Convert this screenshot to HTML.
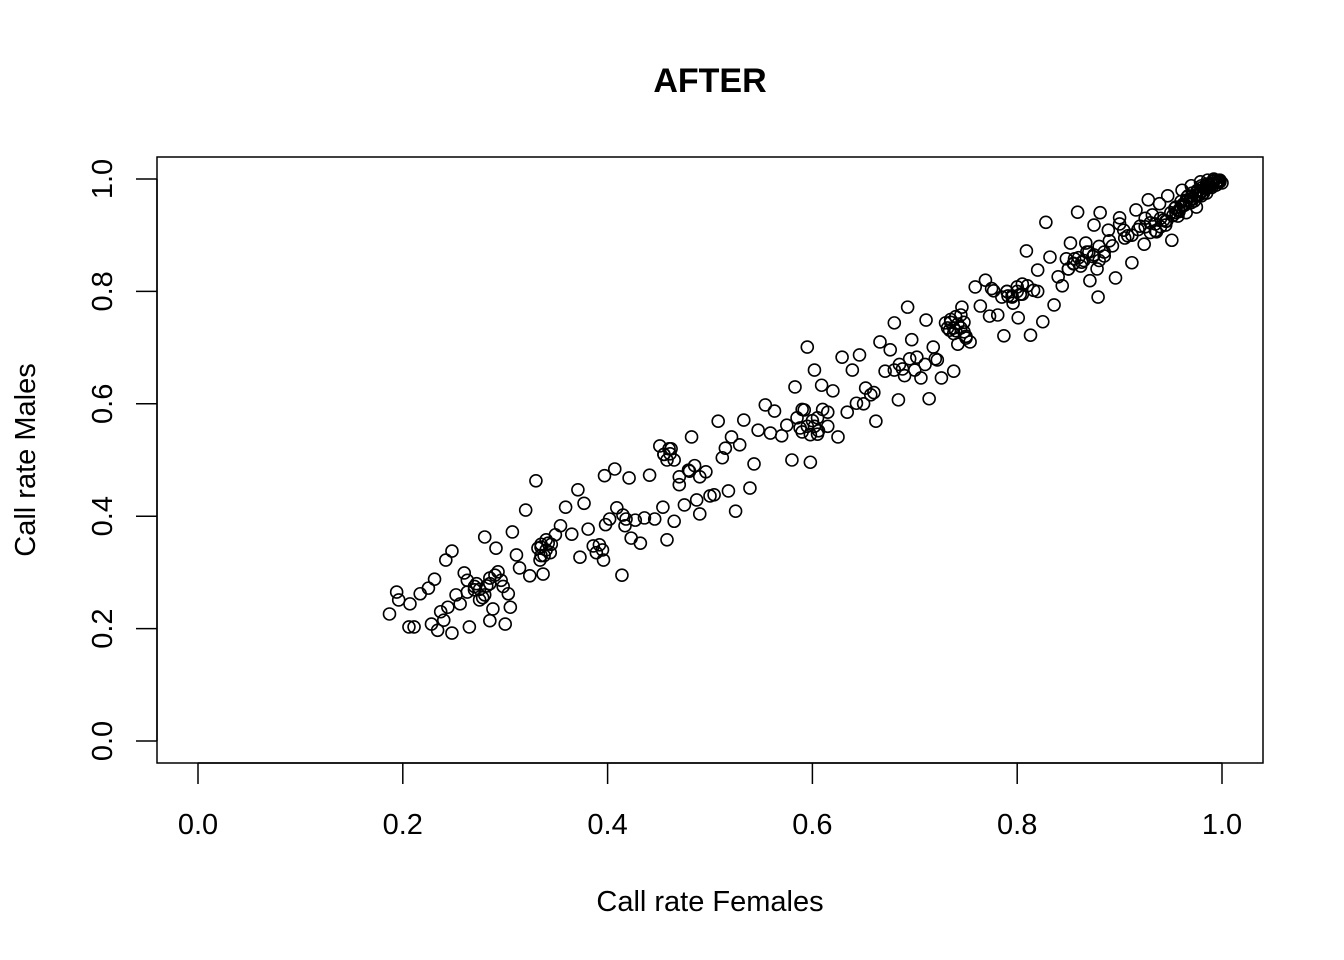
<!DOCTYPE html>
<html><head><meta charset="utf-8"><style>
html,body{margin:0;padding:0;background:#fff}
svg{display:block}
text{font-family:"Liberation Sans",Arial,sans-serif;fill:#000}
</style></head><body>
<svg id="chart" width="1344" height="960" viewBox="0 0 1344 960" xmlns="http://www.w3.org/2000/svg">
<text x="710" y="92" font-size="34" font-weight="bold" text-anchor="middle">AFTER</text>
<rect x="157" y="157" width="1106" height="606" fill="none" stroke="#000" stroke-width="1.5"/>
<g id="xaxis"></g>
<g id="yaxis"></g>
<text x="710" y="911" font-size="29" text-anchor="middle">Call rate Females</text>
<text x="0" y="0" font-size="29" text-anchor="middle" transform="translate(35,460) rotate(-90)">Call rate Males</text>
<g id="points"></g>
</svg>
<script>
const xTicks=[0,0.2,0.4,0.6,0.8,1.0];
const yTicks=[0,0.2,0.4,0.6,0.8,1.0];
const tickLabels=["0.0","0.2","0.4","0.6","0.8","1.0"];
const females=[.187,.194,.196,.206,.211,.207,.217,.225,.231,.242,.248,.228,.234,.237,.240,.248,.244,.252,.256,.260,.263,.265,.270,.275,.280,.282,.285,.288,.291,.293,.296,.300,.303,.305,.307,.311,.314,.320,.324,.330,.332,.334,.337,.340,.344,.349,.354,.359,.365,.371,.373,.377,.381,.386,.389,.392,.396,.397,.402,.407,.409,.414,.417,.421,.423,.427,.432,.436,.441,.446,.451,.454,.458,.461,.465,.470,.475,.479,.482,.487,.490,.496,.500,.504,.508,.512,.515,.518,.521,.525,.529,.533,.539,.543,.547,.554,.559,.563,.570,.575,.580,.583,.588,.592,.595,.598,.602,.605,.609,.615,.620,.625,.629,.634,.639,.643,.646,.652,.657,.662,.666,.671,.676,.680,.684,.688,.693,.697,.702,.706,.711,.714,.718,.722,.726,.730,.734,.738,.742,.746,.750,.754,.759,.764,.769,.773,.777,.781,.787,.791,.796,.801,.805,.809,.813,.816,.820,.825,.828,.832,.836,.840,.844,.848,.852,.855,.859,.863,.867,.871,.875,.879,.881,.885,.889,.893,.896,.900,.904,.908,.912,.916,.920,.924,.928,.932,.936,.939,.943,.947,.951,.954,.957,.961,.964,.967,.970,.973,.976,.979,.982,.985,.988,.991,.994,.997,1.0,.992,.986,.980,.975,
.335,.338,.342,.395,.398,.415,.418,.455,.458,.462,.598,.602,.606,.585,.590,.735,.738,.742,.745,.748,.790,.795,.800,.805,.850,.856,.862,.868,.874,.880,.925,.930,.935,.940,.945,.950,.960,.965,.970,.975,.980,.985,.990,.995,.998,.972,.978,.984,.990,.996,.955,.962,.968,.945,.958,.263,.272,.278,.285,.298,
.955,.960,.965,.970,.975,.980,.985,.990,.995,.998,.993,.987,.981,.976,.971,.966,.962,.958,.952,.946,.940,.935,.930,.925,.918,.912,.905,.900,
.735,.740,.745,.740,.732,.748,.738,.750,
.790,.795,.800,.785,.803,.810,.775,.820,
.850,.855,.860,.865,.870,.875,.880,.885,.890,.878,
.600,.595,.605,.610,.590,.615,
.455,.460,.465,.470,.480,.490,.485,
.335,.340,.335,.345,
.275,.280,.270,.285,.290,
.680,.685,.690,.695,.700,.710,.720,.650,.660];
const males=[.226,.265,.251,.203,.203,.244,.262,.272,.288,.322,.338,.208,.197,.230,.215,.192,.238,.260,.244,.299,.286,.203,.269,.251,.363,.276,.214,.235,.343,.301,.286,.208,.262,.238,.372,.331,.308,.411,.294,.463,.343,.322,.297,.358,.335,.367,.383,.416,.368,.447,.327,.423,.377,.347,.335,.349,.322,.472,.395,.484,.415,.295,.383,.468,.361,.393,.352,.397,.473,.395,.525,.416,.358,.511,.391,.456,.420,.482,.541,.429,.404,.479,.436,.438,.569,.504,.521,.445,.541,.409,.527,.571,.450,.493,.553,.598,.548,.587,.543,.562,.500,.630,.557,.589,.701,.496,.660,.546,.633,.585,.623,.541,.683,.585,.660,.601,.687,.628,.616,.569,.710,.658,.696,.744,.607,.662,.772,.714,.683,.646,.749,.609,.701,.678,.646,.744,.731,.658,.706,.772,.717,.710,.808,.774,.820,.756,.801,.758,.721,.792,.779,.753,.813,.872,.722,.802,.838,.746,.923,.861,.776,.826,.810,.858,.886,.849,.941,.852,.886,.819,.918,.790,.940,.863,.909,.881,.824,.931,.909,.899,.851,.945,.916,.884,.963,.936,.906,.956,.927,.970,.891,.948,.934,.980,.954,.970,.988,.961,.980,.995,.975,.991,.986,.996,.989,.998,.993,1.0,.998,.988,.972,
.345,.330,.352,.340,.385,.402,.395,.510,.500,.520,.545,.560,.552,.575,.590,.750,.735,.742,.758,.728,.800,.792,.808,.795,.840,.858,.845,.870,.862,.855,.915,.922,.908,.930,.918,.940,.950,.962,.958,.970,.978,.985,.990,.994,.998,.965,.972,.982,.992,.996,.940,.952,.960,.925,.945,.265,.280,.255,.290,.275,
.950,.960,.940,.965,.950,.970,.975,.985,.990,.995,.998,.990,.985,.978,.975,.968,.955,.942,.935,.925,.915,.920,.905,.930,.910,.900,.895,.920,
.745,.730,.735,.755,.735,.745,.725,.720,
.800,.790,.800,.790,.795,.810,.805,.800,
.840,.850,.860,.855,.870,.865,.880,.870,.890,.840,
.570,.560,.575,.590,.550,.560,
.510,.520,.500,.470,.480,.470,.490,
.350,.340,.330,.350,
.270,.260,.275,.280,.295,
.660,.670,.650,.680,.660,.670,.680,.600,.620];
const X0=198,XS=1024,Y0=741,YS=562;
const sx=v=>X0+v*XS, sy=v=>Y0-v*YS;
const NS="http://www.w3.org/2000/svg";
const xa=document.getElementById('xaxis'), ya=document.getElementById('yaxis'), pg=document.getElementById('points');
function mk(t,a){const e=document.createElementNS(NS,t);for(const k in a)e.setAttribute(k,a[k]);return e;}
xa.appendChild(mk('line',{x1:sx(xTicks[0]),x2:sx(xTicks[xTicks.length-1]),y1:763,y2:763,stroke:'#000','stroke-width':1.5}));
xTicks.forEach((v,i)=>{
  const l=mk('line',{x1:sx(v),x2:sx(v),y1:763,y2:784,stroke:'#000','stroke-width':1.5});
  
  
  xa.appendChild(l);
  const t=mk('text',{x:sx(v),y:834,'font-size':29,'text-anchor':'middle'});
  
  
  t.textContent=tickLabels[i];xa.appendChild(t);
});
ya.appendChild(mk('line',{x1:157,x2:157,y1:sy(yTicks[0]),y2:sy(yTicks[yTicks.length-1]),stroke:'#000','stroke-width':1.5}));
yTicks.forEach((v,i)=>{
  const l=mk('line',{x1:136,x2:157,y1:sy(v),y2:sy(v),stroke:'#000','stroke-width':1.5});
  
  
  ya.appendChild(l);
  const t=mk('text',{x:0,y:0,'font-size':29,'text-anchor':'middle',transform:`translate(112,${sy(v)}) rotate(-90)`});
  
  
  t.textContent=tickLabels[i];ya.appendChild(t);
});
for(let i=0;i<females.length;i++){
  const c=mk('circle',{cx:sx(females[i]),cy:sy(males[i]),r:6,fill:'none',stroke:'#000','stroke-width':1.6});
  
  
  pg.appendChild(c);
}
</script>
</body></html>
